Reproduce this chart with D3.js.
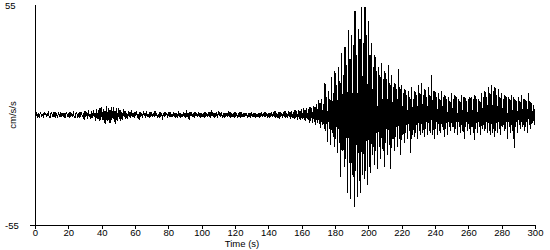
<!DOCTYPE html>
<html>
<head>
<meta charset="utf-8">
<script src="https://cdn.jsdelivr.net/npm/d3@7"></script>
<style>
  body { margin: 0; background: #fff; }
  text { font-family: "Liberation Sans", Arial, sans-serif; font-size: 9.5px; fill: #000; }
  .axis path, .axis line { stroke: #000; shape-rendering: crispEdges; }
</style>
</head>
<body>
<script>
// acceleration trace, two readings per second (cm/s/s)
var t0 = 0, dt = 0.5;
var accel = [
  0.3,-0.8,1.2,-0.5,0.9,-1.4,0.4,1.1,-0.9,0.6,-1.3,1.5,-0.2,0.8,-1.1,0.5,1.3,-0.7,-1.4,0.9,
  1.2,-0.4,0.7,-1.2,1.6,-0.8,0.3,-1.5,1.0,0.5,-0.9,1.4,-1.1,0.6,-0.3,1.2,-1.6,0.8,1.1,-0.7,
  0.9,-1.3,1.5,-0.6,0.4,-1.0,1.8,-0.9,-1.4,0.7,1.2,-0.5,0.8,-1.7,1.3,-0.4,0.9,-1.2,1.0,-2.6,
  2.0,-0.8,1.4,-1.8,2.3,-1.1,0.6,-2.2,1.8,-1.5,2.6,-0.9,1.2,-2.8,3.0,-1.9,2.5,-3.1,3.6,-2.4,
  4.2,-2.5,3.1,-3.8,1.9,-4.3,4.6,-2.8,3.4,-3.9,2.6,-4.1,3.8,-1.7,4.0,-3.5,2.2,-4.4,3.3,-2.9,
  3.5,-2.1,2.7,-3.0,1.6,-2.4,2.8,-1.2,1.9,-2.2,1.1,-1.8,2.0,-0.9,1.5,-1.7,2.6,-1.1,0.8,-1.6,
  1.4,-0.7,1.8,-1.3,0.6,-2.5,1.7,-0.9,1.2,-1.5,2.1,-0.6,1.0,-1.4,1.8,-1.1,0.5,-1.6,1.3,-0.8,
  1.6,-1.2,0.9,-1.0,2.0,-0.7,1.1,-1.5,0.6,-1.3,1.4,-0.9,1.2,-2.3,0.8,-1.0,1.6,-0.6,1.1,-1.4,
  1.3,-0.9,1.7,-1.2,0.5,-1.1,1.5,-0.8,1.0,-1.3,0.7,-1.6,1.9,-0.9,1.2,-1.4,0.6,-1.0,1.4,-1.2,
  1.1,-1.6,2.3,-0.8,1.0,-2.5,1.6,-0.7,1.2,-1.1,0.8,-1.4,1.3,-0.6,1.0,-1.2,1.7,-0.9,1.1,-1.5,
  1.2,-0.8,1.0,-1.4,1.5,-0.9,0.7,-1.2,1.6,-1.1,1.3,-1.6,2.6,-0.7,1.1,-1.3,0.9,-1.0,1.4,-1.5,
  2.1,-0.6,1.2,-1.1,1.5,-1.7,0.8,-1.3,1.2,-0.7,1.0,-1.1,1.9,-0.8,1.3,-1.4,0.9,-1.2,1.1,-1.6,
  1.4,-0.9,1.1,-1.3,0.7,-1.2,1.3,-1.7,1.6,-0.8,0.9,-1.2,1.2,-0.6,1.0,-1.5,0.8,-1.1,1.2,-1.3,
  1.3,-0.7,0.9,-1.1,1.2,-1.5,0.6,-1.0,1.1,-1.3,0.8,-1.2,1.5,-0.9,1.2,-1.1,1.7,-0.8,1.0,-1.4,
  1.2,-1.5,0.9,-1.0,1.6,-1.2,1.3,-0.8,1.8,-1.6,1.1,-1.3,1.4,-1.9,1.7,-1.0,1.2,-1.5,1.6,-1.2,
  1.9,-1.4,1.2,-1.7,2.1,-1.1,1.5,-1.8,2.0,-1.4,1.6,-2.2,2.3,-1.5,1.8,-2.5,2.6,-1.9,2.2,-2.7,
  2.9,-2.1,3.3,-2.6,2.5,-3.1,3.6,-2.2,3.1,-3.8,4.0,-2.9,3.5,-4.2,4.6,-3.3,4.1,-5.0,5.5,-4.0,
  7.5,-4.5,6.0,-6.5,8.0,-5.2,5.5,-7.0,16,-8,9,-13.5,12,-7,8,-15,19,-9,11,-16,
  22,-12,15,-19,24,-14,17,-31,31,-18,20,-26,34,-22,25,-39,42.5,-24,28,-42,
  40,-30,35,-46,52,-28,30,-41,43,-33,38,-39,54,-30,36,-32,54,-28,40,-35,
  47,-26,30,-29,36,-20,24,-25,30,-18,22,-27,24,-16,20,-22,26,-17,18,-26,
  22,-14,18,-20,25,-15,16,-27,20,-12,14,-18,16,-11,13,-16,23,-12,14,-20,
  15,-10,11,-14,13,-9,10,-12,12,-8,9,-19,14,-10,8,-11,12,-9,10,-12,
  15,-8,11,-10,16,-9,10,-11,13,-7,9,-10,14,-8,10,-9,20,-10,12,-12,
  12,-7,9,-10,11,-8,8,-9,12,-6,9,-11,10,-7,8,-10,9,-6,7,-8,
  11,-6,8,-9,10,-7,9,-10,8,-6,7,-9,10,-8,9,-12,9,-6,7,-8,
  8,-7,9,-10,9,-6,8,-12.5,10,-7,8,-9,8,-6,7,-10,11,-7,9,-8,
  12,-7,9,-9,14,-8,11,-10,15,-9,12,-11,14,-8,10,-9,13,-7,9,-10,
  11,-6,8,-8,10,-7,9,-12,9,-6,8,-9,10,-8,9,-16.5,8,-6,7,-9,
  9,-5,7,-7,10,-6,8,-8,8,-6,7,-9,11,-5,7,-7,6,-4,5,-5,
  3
];
var xTicks = d3.range(0, 301, 20);
var yTicks = [55, -55];

var width = 550, height = 250;
var margin = {top: 5, right: 15, bottom: 25, left: 35};

var x = d3.scaleLinear().domain([0, 300]).range([margin.left, width - margin.right]);
var y = d3.scaleLinear().domain([-55, 55]).range([height - margin.bottom, margin.top]);

var svg = d3.select("body").append("svg")
    .attr("width", width)
    .attr("height", height);

// trace
var line = d3.line()
    .x(function(d, i) { return x(t0 + i * dt); })
    .y(function(d) { return y(d); });

svg.append("path")
    .datum(accel)
    .attr("d", line)
    .attr("fill", "none")
    .attr("stroke", "#000")
    .attr("stroke-width", 1)
    .attr("shape-rendering", "crispEdges");

// axis-x
var gx = svg.append("g")
    .attr("class", "axis")
    .attr("transform", "translate(0," + y(-55) + ")")
    .call(d3.axisBottom(x).tickValues(xTicks).tickSizeInner(4).tickSizeOuter(0).tickPadding(0));
gx.select(".domain").remove();
gx.selectAll("text").attr("font-family", null).attr("font-size", null);

// axis-y
var gy = svg.append("g")
    .attr("class", "axis")
    .attr("transform", "translate(" + x(0) + ",0)")
    .call(d3.axisLeft(y).tickValues(yTicks).tickSizeOuter(0)
      .tickFormat(function(d) { return String(d); }));
gy.select(".domain").remove();
gy.selectAll(".tick line").attr("x2", function(d) { return d < 0 ? -5 : 0; });
gy.selectAll(".tick text")
    .attr("x", -30)
    .attr("text-anchor", "start")
    .attr("dy", "0.32em");
gy.selectAll("text").attr("font-family", null).attr("font-size", null);

// axis lines
svg.append("line")
    .attr("x1", x(0)).attr("x2", x(300))
    .attr("y1", y(-55)).attr("y2", y(-55))
    .attr("stroke", "#000").attr("shape-rendering", "crispEdges");
svg.append("line")
    .attr("x1", x(0)).attr("x2", x(0))
    .attr("y1", y(55)).attr("y2", y(-55))
    .attr("stroke", "#000").attr("shape-rendering", "crispEdges");

// titles
svg.append("text")
    .attr("x", 242)
    .attr("y", 247)
    .attr("text-anchor", "middle")
    .text("Time (s)");

svg.append("text")
    .attr("transform", "translate(16," + y(0) + ") rotate(-90)")
    .attr("text-anchor", "middle")
    .text("cm/s/s");
</script>
</body>
</html>
